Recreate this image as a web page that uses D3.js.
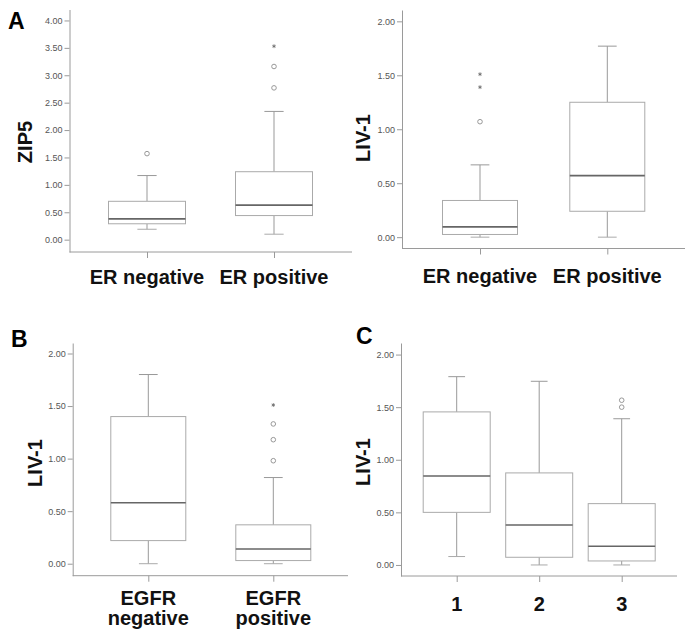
<!DOCTYPE html>
<html><head><meta charset="utf-8">
<script src="https://cdn.jsdelivr.net/npm/d3@7"></script>
<style>
html,body{margin:0;padding:0;background:#fff;}
svg{display:block;font-family:"Liberation Sans",Arial,sans-serif;}
</style></head>
<body>
<svg id="chart" width="685" height="638"></svg>
<script>
// ---------- DATA ----------
// Panel A (left): ZIP5 by ER status
const zipCategories = ["ER negative", "ER positive"];
const zipLow     = [0.19, 0.10];
const zipQ1      = [0.29, 0.44];
const zipMedian  = [0.38, 0.63];
const zipQ3      = [0.70, 1.24];
const zipHigh    = [1.17, 2.34];
const zipOutliers = [[1.57], [2.77, 3.16]];
const zipExtremes = [[], [3.53]];
const zipTicks = [0, 0.5, 1, 1.5, 2, 2.5, 3, 3.5, 4];

// Panel A (right): LIV-1 by ER status
const livErCategories = ["ER negative", "ER positive"];
const livErLow    = [0.00, 0.00];
const livErQ1     = [0.025, 0.24];
const livErMedian = [0.095, 0.57];
const livErQ3     = [0.34, 1.25];
const livErHigh   = [0.67, 1.77];
const livErOutliers = [[1.07], []];
const livErExtremes = [[1.39, 1.51], []];

// Panel B: LIV-1 by EGFR status
const egfrCategories = [["EGFR", "negative"], ["EGFR", "positive"]];
const egfrLow    = [0.00, 0.00];
const egfrQ1     = [0.22, 0.03];
const egfrMedian = [0.58, 0.14];
const egfrQ3     = [1.40, 0.37];
const egfrHigh   = [1.80, 0.82];
const egfrOutliers = [[], [0.98, 1.18, 1.33]];
const egfrExtremes = [[], [1.51]];

// Panel C: LIV-1 by grade
const gradeCategories = ["1", "2", "3"];
const gradeLow    = [0.08, 0.00, 0.00];
const gradeQ1     = [0.50, 0.073, 0.038];
const gradeMedian = [0.846, 0.38, 0.178];
const gradeQ3     = [1.455, 0.875, 0.583];
const gradeHigh   = [1.79, 1.746, 1.39];
const gradeOutliers = [[], [], [1.50, 1.566]];
const gradeExtremes = [[], [], []];

const livTicks = [0, 0.5, 1, 1.5, 2];

// ---------- LAYOUT ----------
const panels = [
  {cats: zipCategories, low: zipLow, q1: zipQ1, med: zipMedian, q3: zipQ3, high: zipHigh,
   out: zipOutliers, ext: zipExtremes, ticks: zipTicks, yTitle: "ZIP5",
   x0: 69.5, x1: 352, p0: 147, p1: 274, yBottom: 252, yTop: 9.5, dom: [-0.225, 4.2], bw: 77,
   labelY: 284, yTitleX: 31.5, yTitleY: 142, letter: "A", lx: 8, ly: 28.5},
  {cats: livErCategories, low: livErLow, q1: livErQ1, med: livErMedian, q3: livErQ3, high: livErHigh,
   out: livErOutliers, ext: livErExtremes, ticks: livTicks, yTitle: "LIV-1",
   x0: 402, x1: 685, p0: 480, p1: 607.3, yBottom: 248.5, yTop: 10, dom: [-0.105, 2.105], bw: 75,
   labelY: 283, yTitleX: 370, yTitleY: 138},
  {cats: egfrCategories, low: egfrLow, q1: egfrQ1, med: egfrMedian, q3: egfrQ3, high: egfrHigh,
   out: egfrOutliers, ext: egfrExtremes, ticks: livTicks, yTitle: "LIV-1",
   x0: 72.7, x1: 348, p0: 148.3, p1: 273.3, yBottom: 575.7, yTop: 343, dom: [-0.114, 2.10], bw: 75,
   labelY: 604.5, yTitleX: 41.5, yTitleY: 463, letter: "B", lx: 11, ly: 347},
  {cats: gradeCategories, low: gradeLow, q1: gradeQ1, med: gradeMedian, q3: gradeQ3, high: gradeHigh,
   out: gradeOutliers, ext: gradeExtremes, ticks: livTicks, yTitle: "LIV-1",
   x0: 401, x1: 677, p0: 456.7, p1: 621.7, yBottom: 576, yTop: 343, dom: [-0.105, 2.11], bw: 67,
   labelY: 611, yTitleX: 370, yTitleY: 462, letter: "C", lx: 356, ly: 343.5}
];

const svg = d3.select("#chart");
const axisColor = "#9a9a9a";

panels.forEach(p => {
  const g = svg.append("g");
  const y = d3.scaleLinear().domain(p.dom).range([p.yBottom, p.yTop]);
  const keys = p.cats.map((c, i) => i);
  const x = d3.scalePoint().domain(keys).range([p.p0, p.p1]);

  // y axis
  const ya = g.append("g").attr("transform", `translate(${p.x0},0)`)
    .call(d3.axisLeft(y).tickValues(p.ticks).tickFormat(d3.format(".2f")).tickSize(5).tickSizeOuter(0).tickPadding(2));
  ya.select(".domain").attr("stroke", axisColor);
  ya.selectAll(".tick line").attr("stroke", axisColor);
  ya.selectAll(".tick text").attr("fill", "#555").attr("font-size", "9px")
    .attr("font-family", "'Liberation Sans', Arial, sans-serif");

  // x axis line + ticks
  g.append("line").attr("x1", p.x0).attr("x2", p.x1).attr("y1", p.yBottom).attr("y2", p.yBottom)
    .attr("stroke", axisColor);
  const xa = g.append("g").attr("transform", `translate(0,${p.yBottom})`)
    .call(d3.axisBottom(x).tickSize(6).tickFormat(""));
  xa.select(".domain").remove();
  xa.selectAll(".tick line").attr("stroke", axisColor);

  // category labels
  keys.forEach(i => {
    const lines = Array.isArray(p.cats[i]) ? p.cats[i] : [p.cats[i]];
    const t = g.append("text").attr("x", x(i)).attr("y", p.labelY)
      .attr("text-anchor", "middle").attr("font-size", "20px").attr("font-weight", "bold").attr("fill", "#111");
    lines.forEach((l, j) => t.append("tspan").attr("x", x(i)).attr("dy", j === 0 ? 0 : 20.5).text(l));
  });

  // y title
  g.append("text").attr("transform", `translate(${p.yTitleX},${p.yTitleY}) rotate(-90)`)
    .attr("text-anchor", "middle").attr("font-size", "20px").attr("font-weight", "bold").attr("fill", "#111")
    .text(p.yTitle);

  if (p.letter) {
    g.append("text").attr("x", p.lx).attr("y", p.ly).attr("font-size", "23px").attr("font-weight", "bold")
      .attr("fill", "#000").text(p.letter);
  }

  // boxes
  keys.forEach(i => {
    const cx = x(i), hw = p.bw / 2, cw = p.bw / 8;
    // whiskers
    g.append("line").attr("x1", cx).attr("x2", cx).attr("y1", y(p.q3[i])).attr("y2", y(p.high[i]))
      .attr("stroke", "#999");
    g.append("line").attr("x1", cx).attr("x2", cx).attr("y1", y(p.q1[i])).attr("y2", y(p.low[i]))
      .attr("stroke", "#999");
    g.append("line").attr("x1", cx - cw).attr("x2", cx + cw).attr("y1", y(p.high[i])).attr("y2", y(p.high[i]))
      .attr("stroke", "#999");
    g.append("line").attr("x1", cx - cw).attr("x2", cx + cw).attr("y1", y(p.low[i])).attr("y2", y(p.low[i]))
      .attr("stroke", "#aaa");
    // box
    g.append("rect").attr("x", cx - hw).attr("y", y(p.q3[i])).attr("width", p.bw)
      .attr("height", y(p.q1[i]) - y(p.q3[i])).attr("fill", "#fff").attr("stroke", "#aaa");
    // median
    g.append("line").attr("x1", cx - hw).attr("x2", cx + hw).attr("y1", y(p.med[i])).attr("y2", y(p.med[i]))
      .attr("stroke", "#666").attr("stroke-width", 1.6);
    // outliers
    p.out[i].forEach(v => {
      g.append("circle").attr("cx", cx).attr("cy", y(v)).attr("r", 2.3)
        .attr("fill", "none").attr("stroke", "#999");
    });
    p.ext[i].forEach(v => {
      g.append("path").attr("transform", `translate(${cx},${y(v)})`)
        .attr("d", d3.symbol(d3.symbolAsterisk || d3.symbolCross, 10)())
        .attr("fill", "#666").attr("stroke", "#666").attr("stroke-width", 0.8);
    });
  });
});
</script>
</body></html>
